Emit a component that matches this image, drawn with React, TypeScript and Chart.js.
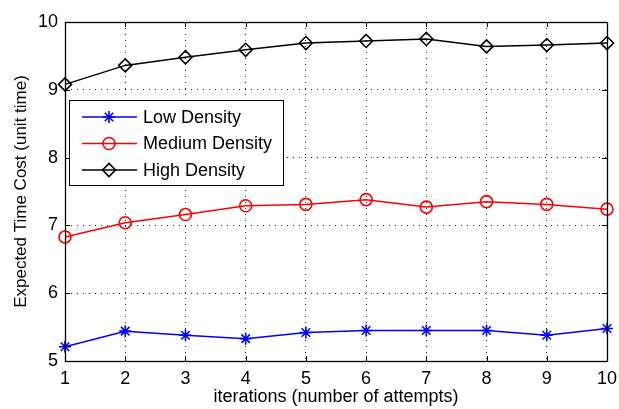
import React, { useEffect, useRef } from "react";
import { Chart, registerables } from "chart.js";
import { drawPoint } from "chart.js/helpers";

Chart.register(...registerables);

const iterations = [1, 2, 3, 4, 5, 6, 7, 8, 9, 10];
const lowDensity = [5.21, 5.44, 5.38, 5.33, 5.42, 5.45, 5.45, 5.45, 5.38, 5.48];
const mediumDensity = [6.83, 7.04, 7.16, 7.29, 7.31, 7.38, 7.27, 7.35, 7.31, 7.24];
const highDensity = [9.08, 9.36, 9.48, 9.59, 9.69, 9.72, 9.75, 9.64, 9.66, 9.69];
const seriesLabels = ["Low Density", "Medium Density", "High Density"];
const yTicks = [5, 6, 7, 8, 9, 10];

const FONT = "'Liberation Sans', Arial, Helvetica, sans-serif";

// Frame, inward tick marks and a boxed legend inside the plot area.
const framePlugin = {
  id: "frameAndLegend",
  afterDatasetsDraw(chart: any) {
    const { ctx, chartArea: a, scales } = chart;
    ctx.save();
    ctx.strokeStyle = "#000";
    ctx.lineWidth = 1;
    const tl = 5;
    ctx.beginPath();
    scales.x.ticks.forEach((t: any) => {
      const px = Math.round(scales.x.getPixelForValue(t.value)) + 0.5;
      ctx.moveTo(px, a.bottom);
      ctx.lineTo(px, a.bottom - tl);
      ctx.moveTo(px, a.top);
      ctx.lineTo(px, a.top + tl);
    });
    scales.y.ticks.forEach((t: any) => {
      const py = Math.round(scales.y.getPixelForValue(t.value)) + 0.5;
      ctx.moveTo(a.left, py);
      ctx.lineTo(a.left + tl, py);
      ctx.moveTo(a.right, py);
      ctx.lineTo(a.right - tl, py);
    });
    ctx.stroke();
    ctx.lineWidth = 1.3;
    ctx.strokeRect(Math.round(a.left) + 0.5, Math.round(a.top) + 0.5, Math.round(a.right - a.left), Math.round(a.bottom - a.top));

    // legend
    const bx = a.left + 4, by = a.top + 78, bw = 214, bh = 85;
    ctx.fillStyle = "#fff";
    ctx.fillRect(bx, by, bw, bh);
    ctx.lineWidth = 1;
    ctx.strokeStyle = "#000";
    ctx.strokeRect(bx + 0.5, by + 0.5, bw, bh);
    chart.data.datasets.forEach((ds: any, i: number) => {
      const cy = by + 17 + i * 26.5;
      ctx.strokeStyle = ds.borderColor;
      ctx.lineWidth = ds.borderWidth;
      ctx.beginPath();
      ctx.moveTo(bx + 13, cy);
      ctx.lineTo(bx + 68, cy);
      ctx.stroke();
      ctx.lineWidth = ds.pointBorderWidth;
      ctx.fillStyle = "rgba(0,0,0,0)";
      drawPoint(ctx, {
        pointStyle: ds.pointStyle,
        radius: ds.pointRadius,
        rotation: 0,
        borderWidth: ds.pointBorderWidth,
      } as any, bx + 40, cy);
      ctx.fillStyle = "#000";
      ctx.font = `18px ${FONT}`;
      ctx.textBaseline = "middle";
      ctx.textAlign = "left";
      ctx.fillText(ds.label, bx + 74, cy + 1);
    });
    ctx.restore();
  },
};

export default function App() {
  const ref = useRef<HTMLCanvasElement>(null);

  useEffect(() => {
    if (!ref.current) return;
    const mk = (label: string, data: number[], color: string, style: string, r: number) => ({
      label,
      data: iterations.map((x, i) => ({ x, y: data[i] })),
      borderColor: color,
      backgroundColor: "rgba(0,0,0,0)",
      borderWidth: 1.5,
      pointStyle: style,
      pointRadius: r,
      pointHoverRadius: r,
      pointBorderWidth: 1.6,
      pointBorderColor: color,
      pointBackgroundColor: "rgba(0,0,0,0)",
      tension: 0,
      clip: false as any,
    });
    const chart = new Chart(ref.current, {
      type: "line",
      data: {
        datasets: [
          mk(seriesLabels[0], lowDensity, "#0000ff", "star", 6),
          mk(seriesLabels[1], mediumDensity, "#ff0000", "circle", 6),
          mk(seriesLabels[2], highDensity, "#000000", "rectRot", 6.5),
        ],
      },
      options: {
        animation: false,
        responsive: false,
        layout: { padding: { top: 22, right: 12, left: 11, bottom: 1 } },
        plugins: { legend: { display: false }, tooltip: { enabled: false } },
        scales: {
          x: {
            type: "linear",
            min: 1,
            max: 10,
            afterFit: (s: any) => { s.height = 47; s.paddingRight = 0; s.paddingLeft = 0; },
            ticks: { stepSize: 1, color: "#000", font: { family: FONT, size: 18 }, padding: 7 },
            grid: { color: "#222", drawTicks: false },
            border: { display: false, dash: [1, 5] },
            title: { display: true, text: "iterations (number of attempts)", color: "#000", font: { family: FONT, size: 18 }, padding: { top: 0, bottom: 0 } },
          },
          y: {
            min: 5,
            max: 10,
            afterFit: (s: any) => { s.width = 54; s.paddingTop = 0; s.paddingBottom = 0; },
            afterBuildTicks: (s: any) => { s.ticks = yTicks.map((v) => ({ value: v })); },
            ticks: { color: "#000", font: { family: FONT, size: 18 }, padding: 7 },
            grid: { color: "#222", drawTicks: false },
            border: { display: false, dash: [1, 5] },
            title: { display: true, text: "Expected Time Cost (unit time)", color: "#000", font: { family: FONT, size: 17 }, padding: { top: 0, bottom: 0 } },
          },
        },
      },
      plugins: [framePlugin],
    });
    return () => chart.destroy();
  }, []);

  return (
    <div style={{ position: "fixed", left: 0, top: 0, width: 619, height: 409, background: "#fff" }}>
      <canvas ref={ref} width={619} height={409} style={{ display: "block" }} />
    </div>
  );
}
